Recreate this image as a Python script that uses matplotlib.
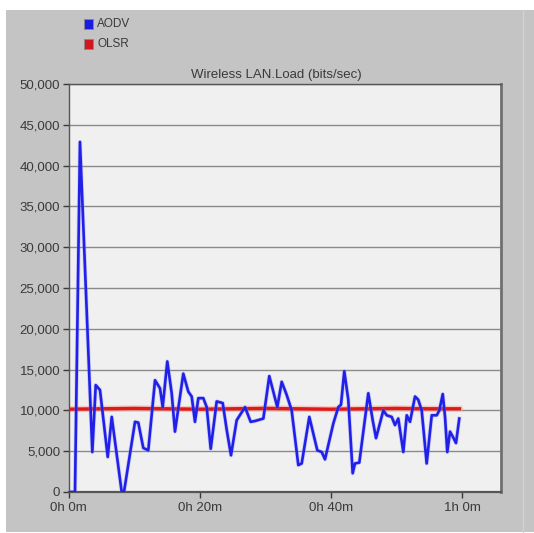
import matplotlib
import matplotlib.pyplot as plt
from matplotlib.patches import Rectangle
from matplotlib.lines import Line2D
from matplotlib.ticker import FuncFormatter

matplotlib.use('agg')

# sim time in minutes, load in bits/sec
aodv_minutes = [0.0, 0.99, 1.75, 3.63, 4.15, 4.80, 5.98, 6.59, 8.11, 8.46,
                10.14, 10.64, 11.40, 12.16, 13.19, 13.95, 14.36, 15.06, 15.73, 16.23,
                17.50, 18.26, 18.78, 19.28, 19.79, 20.55, 21.07, 21.68, 22.59, 23.51,
                24.12, 24.77, 25.64, 26.91, 27.77, 28.43, 29.70, 30.61, 31.83, 32.50,
                33.26, 34.02, 35.03, 35.55, 36.71, 37.93, 38.60, 39.10, 40.37, 41.13,
                41.54, 42.04, 42.65, 43.32, 43.67, 44.33, 45.70, 46.37, 46.88, 47.99,
                48.51, 49.27, 49.77, 50.27, 51.04, 51.56, 52.06, 52.82, 53.32, 53.84,
                54.60, 55.37, 56.13, 56.53, 57.05, 57.40, 57.74, 58.16, 58.57, 59.07,
                59.57]
aodv_load = [0, 0, 42900, 4900, 13100, 12500, 4300, 9200, 0, 0,
             8600, 8500, 5400, 5100, 13700, 12700, 10400, 16000, 12100, 7400,
             14500, 12300, 11700, 8600, 11500, 11500, 10400, 5300, 11100, 10900,
             7600, 4500, 8800, 10400, 8600, 8700, 9000, 14200, 10400, 13500,
             11900, 10000, 3300, 3500, 9200, 5100, 4900, 4000, 8400, 10400,
             10700, 14800, 11300, 2300, 3500, 3600, 12100, 8800, 6600, 10000,
             9400, 9200, 8200, 9000, 4900, 9400, 8600, 11700, 11300, 10000,
             3500, 9400, 9400, 10000, 12000, 9200, 4900, 7400, 6800, 6000,
             9000]

olsr_minutes = [0.0, 5.0, 10.0, 15.0, 20.0, 25.0, 30.0, 35.0, 40.0, 45.0, 50.0, 55.0, 59.6]
olsr_load = [10150, 10200, 10250, 10200, 10150, 10200, 10250, 10200, 10150, 10200, 10250, 10200, 10200]

y_ticks = [0, 5000, 10000, 15000, 20000, 25000, 30000, 35000, 40000, 45000, 50000]
x_ticks = [0, 20, 40, 60]
x_tick_labels = ['0h 0m', '0h 20m', '0h 40m', '1h 0m']

plt.rcParams['font.family'] = ['Liberation Sans', 'DejaVu Sans']

W, H = 534, 533
fig = plt.figure(figsize=(W / 100, H / 100), dpi=100)
fig.patch.set_facecolor('white')

# grey window panel behind everything
fig.patches.append(Rectangle((6 / W, 1 / H), (W - 6) / W, (H - 11) / H,
                             transform=fig.transFigure, facecolor='#c4c4c4',
                             edgecolor='none', zorder=-2))
fig.lines.append(Line2D([523 / W, 523 / W], [1 / H, (H - 10) / H],
                        transform=fig.transFigure, color='#d2d2d2', lw=1.0, zorder=-1))

left, right, top, bottom = 68.5, 501, 84, 492
ax = fig.add_axes([left / W, (H - bottom) / H, (right - left) / W, (bottom - top) / H])
ax.set_facecolor('#f0f0f0')

ax.set_xlim(0, (right - left) / 131.2 * 20)
ax.set_ylim(0, 50000)

ax.yaxis.grid(True, color='#8a8a8a', lw=1.0)
ax.set_axisbelow(True)

ax.plot(olsr_minutes, olsr_load, color='#ffb0a0', lw=4.5, alpha=0.6, zorder=2)
ax.plot(olsr_minutes, olsr_load, color='#e01818', lw=2.4, zorder=3)
ax.plot(aodv_minutes, aodv_load, color='#8888ff', lw=3.0, alpha=0.35, zorder=4)
ax.plot(aodv_minutes, aodv_load, color='#2020e8', lw=1.9, zorder=5)

ax.set_yticks(y_ticks)
ax.yaxis.set_major_formatter(FuncFormatter(lambda v, p: f'{int(v):,}'))
ax.set_xticks(x_ticks)
ax.set_xticklabels(x_tick_labels)
ax.tick_params(axis='both', labelsize=9.5, colors='#3a3a3a', length=4, width=1.0, pad=2)
ax.tick_params(axis='x', pad=3)

for side in ['left', 'bottom', 'top']:
    ax.spines[side].set_color('#555555')
    ax.spines[side].set_linewidth(1.0)
ax.spines['right'].set_color('#707070')
ax.spines['right'].set_linewidth(2.0)
ax.spines['bottom'].set_linewidth(1.6)

fig.text(276 / W, (H - 75) / H, 'Wireless LAN.Load (bits/sec)', ha='center', va='center',
         fontsize=9.5, color='#3a3a3a')

# legend squares
for i, (name, col) in enumerate([('AODV', '#1c1ce0'), ('OLSR', '#d01820')]):
    yc = 24 + i * 20
    fig.patches.append(Rectangle((84 / W, (H - yc - 4.5) / H), 9 / W, 9 / H,
                                 transform=fig.transFigure, facecolor=col,
                                 edgecolor='#888888', lw=0.6, zorder=3))
    fig.text(97 / W, (H - yc) / H, name, ha='left', va='center', fontsize=8.5,
             color='#3a3a3a')

fig.savefig('out.png', dpi=100)
